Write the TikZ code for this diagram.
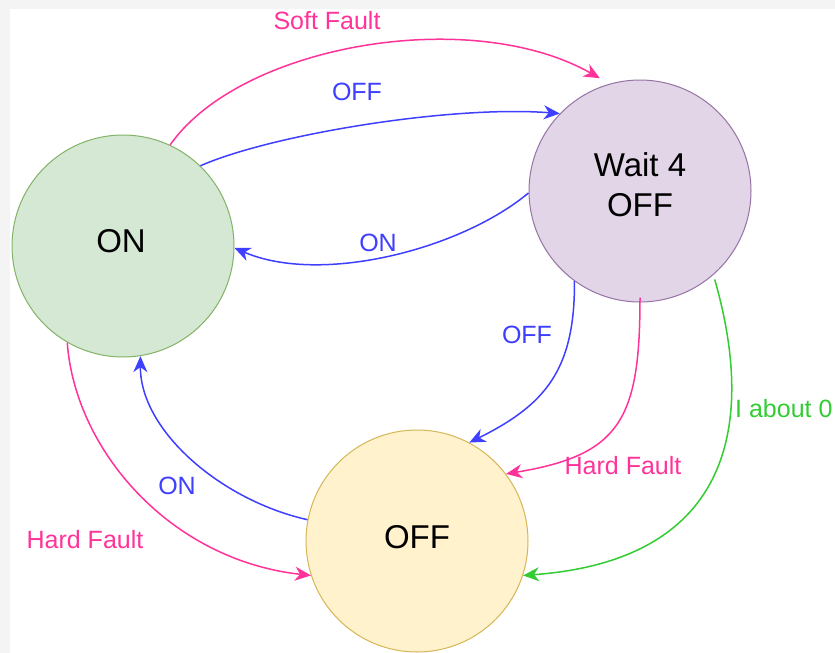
\documentclass[tikz,border=0pt]{standalone}
\usepackage{fontspec}
\setmainfont{Liberation Sans}
\usetikzlibrary{arrows.meta}
\definecolor{bggray}{HTML}{F4F4F4}
\definecolor{onfill}{HTML}{D5E8D4}
\definecolor{online}{HTML}{82B366}
\definecolor{wfill}{HTML}{E1D5E7}
\definecolor{wline}{HTML}{9673A6}
\definecolor{offfill}{HTML}{FFF2CC}
\definecolor{offline}{HTML}{D6B656}
\definecolor{pinkc}{HTML}{FF3399}
\definecolor{bluec}{HTML}{3F3FFF}
\definecolor{greenc}{HTML}{33CC33}
\begin{document}
\begin{tikzpicture}[x=1pt,y=-1pt,
  state/.style={circle, minimum size=222pt, inner sep=0pt, line width=1pt},
  bigtxt/.style={inner sep=0pt, font=\fontsize{33}{40}\selectfont, align=center},
  lab/.style={inner sep=0pt, font=\fontsize{25}{30}\selectfont},
  edge/.style={line width=1.5pt, -{Stealth[length=16pt,width=14pt,inset=5pt]}},
  pinkE/.style={edge, draw=pinkc},
  blueE/.style={edge, draw=bluec},
  greenE/.style={edge, draw=greenc}]
\fill[bggray] (0,0) rectangle (835,653);
\fill[white] (10,9) rectangle (835,653);
\useasboundingbox (0,0) rectangle (835,653);

\node[state, draw=online, fill=onfill] (on) at (123,246) {};
\node[state, draw=wline, fill=wfill] (wait) at (640,191) {};
\node[state, draw=offline, fill=offfill] (off) at (417,541) {};
\node[bigtxt] (ontxt) at (121,241) {ON};
\node[bigtxt] (waittxt) at (640,184.5) {Wait 4\\OFF};
\node[bigtxt] (offtxt) at (417,537) {OFF};

% ON -> Wait (Soft Fault)
\draw[pinkE] (on.65) .. controls (240,45) and (470,5) .. ([shift={(-2,-8)}]wait.110);
% ON -> Wait (OFF)
\draw[blueE] (on.46) .. controls (270,135) and (450,105) .. (wait.136);
% Wait -> ON (ON)
\draw[blueE] (wait.181) .. controls (460,250) and (320,285) .. (on.-1);
% Wait -> OFF (OFF)
\draw[blueE] (wait.234) .. controls (575,370) and (545,405) .. (off.62);
% Wait -> OFF (Hard Fault)
\draw[pinkE] ([yshift=5]wait.270) .. controls (640,420) and (620,455) .. (off.37);
% Wait -> OFF (I about 0)
\draw[greenE] ([shift={(3,3)}]wait.-50) .. controls (755,420) and (735,560) .. (off.-18);
% OFF -> ON (ON)
\draw[blueE] (off.169) .. controls (220,500) and (140,430) .. (on.-81);
% ON -> OFF (Hard Fault)
\draw[pinkE] (on.240) .. controls (75,450) and (170,560) .. (off.198);

\node[lab, text=pinkc] (l1) at (327,21) {Soft Fault};
\node[lab, text=bluec] (l2) at (357,92) {OFF};
\node[lab, text=bluec] (l3) at (378,243) {ON};
\node[lab, text=bluec] (l4) at (527,335) {OFF};
\node[lab, text=pinkc] (l5) at (623,466) {Hard Fault};
\node[lab, text=greenc, anchor=west] (l6) at (735,409) {I about 0};
\node[lab, text=bluec] (l7) at (177,486) {ON};
\node[lab, text=pinkc] (l8) at (85,540) {Hard Fault};
\end{tikzpicture}
\end{document}
